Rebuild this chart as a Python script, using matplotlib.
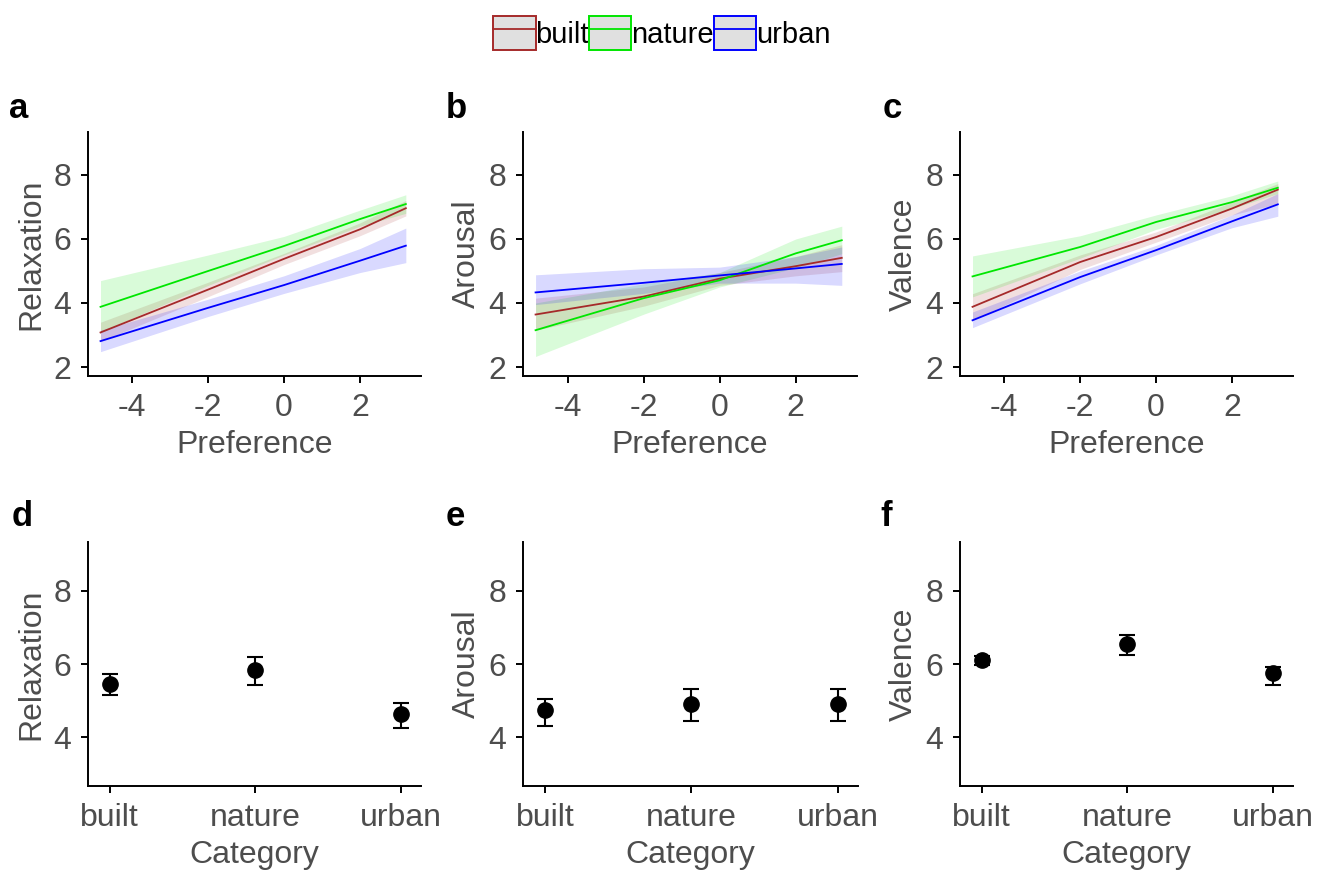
import matplotlib
matplotlib.use('Agg')
import matplotlib.pyplot as plt
from matplotlib.patches import Patch
from matplotlib.lines import Line2D
import numpy as np

plt.rcParams['font.family'] = ['Liberation Sans', 'DejaVu Sans']
plt.rcParams['axes.unicode_minus'] = False

categories = ['built', 'nature', 'urban']
colors = ['#a52a2a', '#00e600', '#0000ff']

# preference values at which the fitted lines were read
pref_x = [-4.84, -2, 0, 2, 3.21]

# a: Relaxation ~ Preference (built, nature, urban)
relax_fit = [[3.08, 4.42, 5.38, 6.30, 6.96],
             [3.88, 5.00, 5.78, 6.62, 7.09],
             [2.81, 3.85, 4.56, 5.32, 5.79]]
relax_lo = [[2.80, 4.20, 5.20, 6.10, 6.72],
            [3.10, 4.55, 5.50, 6.40, 6.80],
            [2.48, 3.58, 4.30, 4.95, 5.26]]
relax_hi = [[3.40, 4.65, 5.55, 6.50, 7.20],
            [4.70, 5.50, 6.08, 6.90, 7.38],
            [3.15, 4.12, 4.85, 5.70, 6.34]]

# b: Arousal ~ Preference
arousal_fit = [[3.64, 4.20, 4.76, 5.15, 5.41],
               [3.15, 4.15, 4.71, 5.55, 5.96],
               [4.33, 4.63, 4.86, 5.08, 5.22]]
arousal_lo = [[3.15, 3.90, 4.55, 4.85, 4.98],
              [2.33, 3.65, 4.50, 5.10, 5.54],
              [3.95, 4.30, 4.62, 4.62, 4.55]]
arousal_hi = [[4.15, 4.50, 4.95, 5.45, 5.82],
              [4.00, 4.60, 4.95, 6.00, 6.40],
              [4.88, 5.07, 5.12, 5.45, 5.75]]

# c: Valence ~ Preference
valence_fit = [[3.88, 5.28, 6.06, 6.95, 7.54],
               [4.83, 5.75, 6.53, 7.15, 7.60],
               [3.46, 4.81, 5.65, 6.55, 7.08]]
valence_lo = [[3.46, 5.05, 5.90, 6.75, 7.10],
              [4.19, 5.40, 6.30, 6.95, 7.42],
              [3.23, 4.60, 5.50, 6.35, 6.71]]
valence_hi = [[4.29, 5.50, 6.22, 7.15, 7.73],
              [5.47, 6.10, 6.75, 7.35, 7.81],
              [3.72, 5.00, 5.80, 6.75, 7.42]]

# d-f: means by category with intervals
relax_mean = [5.45, 5.84, 4.63]
relax_err_lo = [5.15, 5.43, 4.27]
relax_err_hi = [5.72, 6.20, 4.95]
arousal_mean = [4.75, 4.90, 4.90]
arousal_err_lo = [4.32, 4.45, 4.45]
arousal_err_hi = [5.05, 5.32, 5.32]
valence_mean = [6.10, 6.55, 5.75]
valence_err_lo = [5.98, 6.25, 5.43]
valence_err_hi = [6.22, 6.79, 5.93]

W, H = 1324, 875
fig = plt.figure(figsize=(W / 100, H / 100), dpi=100)

tick_col = '#4d4d4d'
fs = 23


def style(ax):
    for s in ['top', 'right']:
        ax.spines[s].set_visible(False)
    for s in ['left', 'bottom']:
        ax.spines[s].set_linewidth(1.4)
    ax.tick_params(direction='out', length=5, width=1.4, labelsize=fs,
                   labelcolor=tick_col, pad=7)


def px_axes(left, top, right, bottom):
    return fig.add_axes([left / W, 1 - bottom / H, (right - left) / W, (bottom - top) / H])


top_lefts = [88, 523, 960]
top_rights = [421, 857, 1293]
labels_top = ['Relaxation', 'Arousal', 'Valence']
fits = [relax_fit, arousal_fit, valence_fit]
los = [relax_lo, arousal_lo, valence_lo]
his = [relax_hi, arousal_hi, valence_hi]
letters_top = ['a', 'b', 'c']
letter_x = [9, 446, 883]

for i in range(3):
    ax = px_axes(top_lefts[i], 132, top_rights[i], 376)
    for j in range(3):
        ax.fill_between(pref_x, los[i][j], his[i][j], color=colors[j], alpha=0.15, lw=0)
    for j in range(3):
        ax.plot(pref_x, fits[i][j], color=colors[j], lw=1.3)
    ax.set_xlim(-5.17, 3.61)
    ax.set_ylim(1.72, 9.34)
    ax.set_xticks([-4, -2, 0, 2])
    ax.set_yticks([2, 4, 6, 8])
    ax.set_xlabel('Preference', fontsize=fs, color=tick_col, labelpad=5)
    ax.set_ylabel(labels_top[i], fontsize=fs, color=tick_col, labelpad=5)
    style(ax)
    fig.text(letter_x[i] / W, 1 - 92 / H, letters_top[i], fontsize=25,
             fontweight='bold', va='top', ha='left')

means = [relax_mean, arousal_mean, valence_mean]
err_lo = [relax_err_lo, arousal_err_lo, valence_err_lo]
err_hi = [relax_err_hi, arousal_err_hi, valence_err_hi]
letters_bot = ['d', 'e', 'f']
letter_xb = [12, 446, 880]
bot_lefts = [88, 523, 960]
bot_rights = [421, 858, 1293]

for i in range(3):
    ax = px_axes(bot_lefts[i], 542, bot_rights[i], 786)
    xpos = np.arange(1, 4)
    m = np.array(means[i])
    yerr = [m - np.array(err_lo[i]), np.array(err_hi[i]) - m]
    ax.errorbar(xpos, m, yerr=yerr, fmt='o', color='black', ms=11,
                elinewidth=1.5, capsize=5.5, capthick=1.5)
    ax.set_xlim(0.85, 3.14)
    ax.set_ylim(2.68, 9.32)
    ax.set_xticks(xpos)
    ax.set_xticklabels(categories)
    ax.set_yticks([4, 6, 8])
    ax.set_xlabel('Category', fontsize=fs, color=tick_col, labelpad=5)
    ax.set_ylabel(labels_top[i], fontsize=fs, color=tick_col, labelpad=5)
    style(ax)
    fig.text(letter_xb[i] / W, 1 - 500 / H, letters_bot[i], fontsize=25,
             fontweight='bold', va='top', ha='left')

handles = [(Patch(facecolor='#e0e0e0', edgecolor=c, lw=1.4),
            Line2D([], [], color=c, lw=1.3)) for c in colors]
fig.legend(handles, categories, loc='center', bbox_to_anchor=(0.5, 1 - 33 / H),
           ncol=3, frameon=False, fontsize=21, handlelength=1.45, handleheight=1.45,
           handletextpad=0.0, columnspacing=0.0, borderpad=0)

fig.savefig('out.png', dpi=100)
